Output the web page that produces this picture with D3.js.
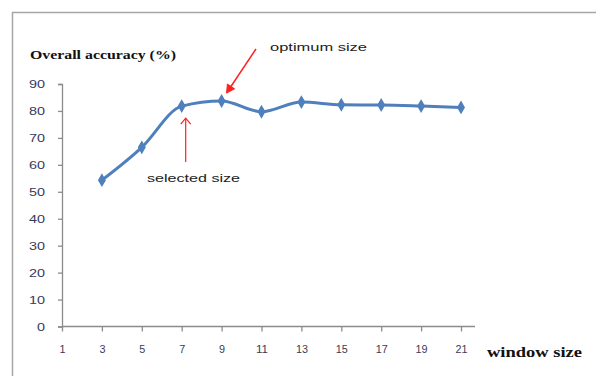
<!DOCTYPE html>
<html>
<head>
<meta charset="utf-8">
<script src="https://cdn.jsdelivr.net/npm/d3@7"></script>
<style>
  html, body { margin: 0; padding: 0; background: #fff; }
  svg { display: block; }
</style>
</head>
<body>
<svg id="chart" width="596" height="376"></svg>
<script>
// Window sizes on the category axis and overall accuracy (%) per window size
const windowSizes = [1, 3, 5, 7, 9, 11, 13, 15, 17, 19, 21];
const measuredSizes = [3, 5, 7, 9, 11, 13, 15, 17, 19, 21];
const accuracy = [54.3, 66.5, 81.8, 83.7, 79.7, 83.3, 82.3, 82.2, 81.8, 81.3];
const yTicks = [0, 10, 20, 30, 40, 50, 60, 70, 80, 90];
const yTitle = "Overall accuracy (%)";
const xTitle = "window size";
const selectedSize = 7;
const optimumSize = 9;

const svg = d3.select("#chart");

// outer chart frame (runs off the right and bottom edges)
svg.append("rect")
  .attr("x", 12.5).attr("y", 12.5)
  .attr("width", 700).attr("height", 500)
  .attr("fill", "none")
  .attr("stroke", "#a6a6a6")
  .attr("stroke-width", 1.5);

const x = d3.scaleLinear().domain([1, 21]).range([62, 461]);
const y = d3.scaleLinear().domain([0, 90]).range([326.5, 84]);

// y axis
const yAxis = d3.axisLeft(y).tickValues(yTicks).tickSize(4).tickPadding(0).tickFormat(d3.format("d"));
const gy = svg.append("g").attr("transform", "translate(62,0)").call(yAxis);
gy.select(".domain").attr("stroke", "#8c8c8c").attr("stroke-width", 1.3);
gy.selectAll(".tick line").attr("stroke", "#8c8c8c").attr("stroke-width", 1.3);
gy.selectAll(".tick text")
  .attr("x", -17)
  .attr("dy", "0.35em")
  .attr("fill", "#3a3a5a")
  .attr("font-family", "Liberation Sans, Arial, sans-serif")
  .attr("font-size", 10)
  .attr("text-anchor", "end")
  .each(function (d) {
    d3.select(this).attr("textLength", String(d).length * 8).attr("lengthAdjust", "spacingAndGlyphs");
  });

// x axis
const xAxis = d3.axisBottom(x).tickValues(windowSizes).tickSize(5).tickPadding(0).tickFormat(d3.format("d"));
const gx = svg.append("g").attr("transform", "translate(0,326.5)").call(xAxis);
gx.select(".domain").attr("d", "M" + x(1) + ",0H475").attr("stroke", "#8c8c8c").attr("stroke-width", 1.3);
gx.selectAll(".tick line").attr("stroke", "#8c8c8c").attr("stroke-width", 1.3);
gx.selectAll(".tick text")
  .attr("y", 26)
  .attr("dy", 0)
  .attr("fill", "#3a3a5a")
  .attr("font-family", "Liberation Sans, Arial, sans-serif")
  .attr("font-size", 10)
  .each(function (d) {
    d3.select(this).attr("textLength", String(d).length * 6).attr("lengthAdjust", "spacingAndGlyphs");
  });

// axis titles
svg.append("text")
  .attr("x", 30).attr("y", 59)
  .attr("font-family", "Liberation Serif, Times New Roman, serif")
  .attr("font-weight", "bold")
  .attr("font-size", 13)
  .attr("fill", "#111")
  .attr("textLength", 146).attr("lengthAdjust", "spacingAndGlyphs")
  .text(yTitle);

svg.append("text")
  .attr("x", 487).attr("y", 357)
  .attr("font-family", "Liberation Serif, Times New Roman, serif")
  .attr("font-weight", "bold")
  .attr("font-size", 14)
  .attr("fill", "#111")
  .attr("textLength", 95).attr("lengthAdjust", "spacingAndGlyphs")
  .text(xTitle);

// accuracy series
const points = measuredSizes.map((s, i) => ({ s, v: accuracy[i] }));
const line = d3.line().x(d => x(d.s)).y(d => y(d.v)).curve(d3.curveMonotoneX);

svg.append("path")
  .datum(points)
  .attr("d", line)
  .attr("fill", "none")
  .attr("stroke", "#4f7fbc")
  .attr("stroke-width", 3)
  .attr("stroke-linejoin", "round");

svg.selectAll(".marker")
  .data(points)
  .join("path")
  .attr("class", "marker")
  .attr("transform", d => `translate(${x(d.s)},${y(d.v)})`)
  .attr("d", d3.symbol(d3.symbolDiamond, 55))
  .attr("fill", "#4f7fbc");

// annotations
const red = "#ff2020";
const vSel = accuracy[measuredSizes.indexOf(selectedSize)];
const vOpt = accuracy[measuredSizes.indexOf(optimumSize)];

// "selected size": vertical arrow pointing up at the chosen window
const selX = x(selectedSize) + 4;
const selTip = y(vSel) + 12;
svg.append("line")
  .attr("x1", selX).attr("y1", selTip + 44)
  .attr("x2", selX).attr("y2", selTip)
  .attr("stroke", red).attr("stroke-width", 1.2);
svg.append("path")
  .attr("d", `M${selX - 5},${selTip + 6}L${selX},${selTip}L${selX + 5},${selTip + 6}`)
  .attr("fill", "none").attr("stroke", red).attr("stroke-width", 1.2);
svg.append("text")
  .attr("x", 147).attr("y", 182)
  .attr("font-family", "Liberation Sans, Arial, sans-serif")
  .attr("font-size", 11)
  .attr("fill", "#222")
  .attr("textLength", 93).attr("lengthAdjust", "spacingAndGlyphs")
  .text("selected size");

// "optimum size": diagonal arrow down to the best window
const optTipX = x(optimumSize) + 5;
const optTipY = y(vOpt) - 8;
const optStartX = 256, optStartY = 49;
svg.append("line")
  .attr("x1", optStartX).attr("y1", optStartY)
  .attr("x2", optTipX).attr("y2", optTipY)
  .attr("stroke", red).attr("stroke-width", 1.5);
{
  const ang = Math.atan2(optTipY - optStartY, optTipX - optStartX);
  const len = 9, spread = 0.5;
  const a1x = optTipX - len * Math.cos(ang - spread), a1y = optTipY - len * Math.sin(ang - spread);
  const a2x = optTipX - len * Math.cos(ang + spread), a2y = optTipY - len * Math.sin(ang + spread);
  svg.append("path")
    .attr("d", `M${a1x},${a1y}L${optTipX},${optTipY}L${a2x},${a2y}Z`)
    .attr("fill", red).attr("stroke", red).attr("stroke-width", 1);
}
svg.append("text")
  .attr("x", 270).attr("y", 51)
  .attr("font-family", "Liberation Sans, Arial, sans-serif")
  .attr("font-size", 11)
  .attr("fill", "#222")
  .attr("textLength", 97).attr("lengthAdjust", "spacingAndGlyphs")
  .text("optimum size");
</script>
</body>
</html>
